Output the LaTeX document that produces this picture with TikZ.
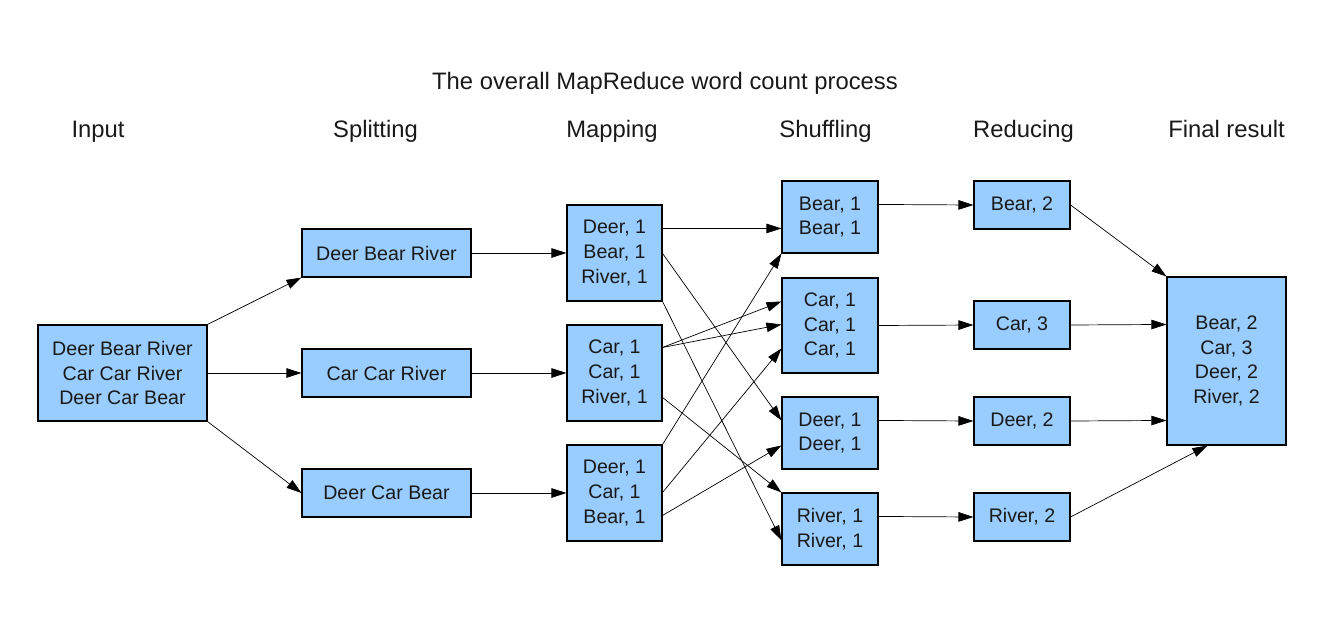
\documentclass[tikz,border=0pt]{standalone}
\usepackage{fontspec}
\setmainfont{Liberation Sans}
\usetikzlibrary{arrows.meta,calc}
\definecolor{boxblue}{RGB}{153,204,255}
\definecolor{txt}{RGB}{25,25,25}
\begin{document}
\begin{tikzpicture}[x=1pt,y=-1pt,
  box/.style={draw=black, fill=boxblue, line width=1.1pt, inner sep=0pt, align=center,
    text=txt, font=\fontsize{19.6}{24.8}\selectfont},
  hdr/.style={inner sep=0pt, anchor=base, text=txt, font=\fontsize{23.8}{28}\selectfont},
  arr/.style={draw=black, line width=0.7pt, -{Triangle[length=15pt,width=9.5pt]}, shorten >=0pt}]
\useasboundingbox (0,0) rectangle (1344,624);
% title and headers
\node[hdr] (title) at (665,89) {The overall MapReduce word count process};
\node[hdr] (hin) at (98,137) {Input};
\node[hdr] (hsp) at (375.5,137) {Splitting};
\node[hdr] (hmap) at (612,137) {Mapping};
\node[hdr] (hsh) at (825.5,137) {Shuffling};
\node[hdr] (hred) at (1023.5,137) {Reducing};
\node[hdr] (hfin) at (1226.5,137) {Final result};
% input
\node[box, minimum width=169pt, minimum height=96pt] (in) at (122.5,373) {Deer Bear River\\Car Car River\\Deer Car Bear};
% splitting
\node[box, minimum width=169pt, minimum height=48pt] (s1) at (386.5,253) {Deer Bear River};
\node[box, minimum width=169pt, minimum height=48pt] (s2) at (386.5,373) {Car Car River};
\node[box, minimum width=169pt, minimum height=48pt] (s3) at (386.5,493) {Deer Car Bear};
% mapping
\node[box, minimum width=95pt, minimum height=96pt] (m1) at (614.5,253) {Deer, 1\\Bear, 1\\River, 1};
\node[box, minimum width=95pt, minimum height=96pt] (m2) at (614.5,373) {Car, 1\\Car, 1\\River, 1};
\node[box, minimum width=95pt, minimum height=96pt] (m3) at (614.5,493) {Deer, 1\\Car, 1\\Bear, 1};
% shuffling
\node[box, minimum width=96pt, minimum height=72pt] (sh1) at (830,217) {Bear, 1\\Bear, 1};
\node[box, minimum width=96pt, minimum height=95pt] (sh2) at (830,325.5) {Car, 1\\Car, 1\\Car, 1};
\node[box, minimum width=96pt, minimum height=72pt] (sh3) at (830,433) {Deer, 1\\Deer, 1};
\node[box, minimum width=96pt, minimum height=72pt] (sh4) at (830,529) {River, 1\\River, 1};
% reducing
\node[box, minimum width=96pt, minimum height=48pt] (r1) at (1022,205) {Bear, 2};
\node[box, minimum width=96pt, minimum height=48pt] (r2) at (1022,325) {Car, 3};
\node[box, minimum width=96pt, minimum height=48pt] (r3) at (1022,421) {Deer, 2};
\node[box, minimum width=96pt, minimum height=48pt] (r4) at (1022,517) {River, 2};
% final
\node[box, minimum width=119pt, minimum height=168pt] (fin) at (1226.5,361) {Bear, 2\\Car, 3\\Deer, 2\\River, 2};
% input -> split
\draw[arr] (in.north east) -- (s1.south west);
\draw[arr] (in.east) -- (s2.west);
\draw[arr] (in.south east) -- (s3.west);
% split -> map
\draw[arr] (s1.east) -- (m1.west);
\draw[arr] (s2.east) -- (m2.west);
\draw[arr] (s3.east) -- (m3.west);
% map -> shuffle
\draw[arr] ($(m1.north east)+(0,24)$) -- ($(sh1.north west)+(0,48)$);
\draw[arr] ($(m1.north east)+(0,49)$) -- ($(sh3.north west)+(0,24)$);
\draw[arr] (m1.south east) -- ($(sh4.north west)+(0,48)$);
\draw[arr] ($(m2.north east)+(0,23)$) -- ($(sh2.north west)+(0,24)$);
\draw[arr] ($(m2.north east)+(0,23)$) -- ($(sh2.north west)+(0,47)$);
\draw[arr] ($(m2.north east)+(0,73)$) -- (sh4.north west);
\draw[arr] (m3.north east) -- (sh1.south west);
\draw[arr] ($(m3.north east)+(0,48)$) -- ($(sh2.north west)+(0,71)$);
\draw[arr] ($(m3.north east)+(0,71)$) -- ($(sh3.north west)+(0,49)$);
% shuffle -> reduce
\draw[arr] ($(sh1.north east)+(0,24)$) -- (r1.west);
\draw[arr] (sh2.east) -- (r2.west);
\draw[arr] ($(sh3.north east)+(0,24)$) -- (r3.west);
\draw[arr] ($(sh4.north east)+(0,24)$) -- (r4.west);
% reduce -> final
\draw[arr] (r1.east) -- (fin.north west);
\draw[arr] (r2.east) -- ($(fin.north west)+(0,48)$);
\draw[arr] (r3.east) -- ($(fin.north west)+(0,144)$);
\draw[arr] (r4.east) -- ($(fin.south west)+(41,0)$);
\end{tikzpicture}
\end{document}
